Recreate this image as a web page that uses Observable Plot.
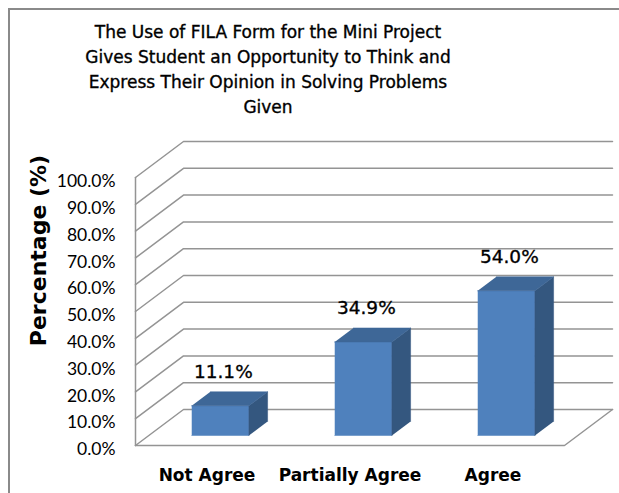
<!DOCTYPE html>
<html>
<head>
<meta charset="utf-8">
<script src="https://cdn.jsdelivr.net/npm/d3@7"></script>
<script src="https://cdn.jsdelivr.net/npm/@observablehq/plot@0.6"></script>
<style>
  html, body { margin: 0; padding: 0; background: #fff; width: 619px; height: 493px; overflow: hidden; }
  #border { position: absolute; left: 8px; top: 8px; width: 700px; height: 600px; border: 2px solid #8a8a8a; box-sizing: border-box; }
  #chart { position: absolute; left: 0; top: 0; }
  #title { position: absolute; left: 0; top: 20px; width: 536px; text-align: center;
           font-family: "DejaVu Sans", sans-serif; font-size: 17px; line-height: 25px; color: #000;
           -webkit-text-stroke: 0.35px #000; }
</style>
</head>
<body>
<div id="border"></div>
<div id="chart"></div>
<div id="title"></div>
<script>
// ---- data ----
const categories = ["Not Agree", "Partially Agree", "Agree"];
const values = [11.1, 34.9, 54.0];
const valueLabels = ["11.1%", "34.9%", "54.0%"];
const yTicks = [0, 10, 20, 30, 40, 50, 60, 70, 80, 90, 100];
const yTickLabels = ["0.0%", "10.0%", "20.0%", "30.0%", "40.0%", "50.0%", "60.0%", "70.0%", "80.0%", "90.0%", "100.0%"];
const titleLines = [
  "The Use of FILA Form for the Mini Project",
  "Gives Student an Opportunity to Think and",
  "Express Their Opinion in Solving Problems",
  "Given"
];
const yTitle = "Percentage (%)";

// ---- layout ----
const W = 619, H = 493, mL = 135, mR = 55, mT = 177, mB = 48;
const n = categories.length;
const xPx = (W - mL - mR) / n, yPx = (H - mT - mB) / 100;
// 3D depth vector (48px right, 36px up) expressed in data units
const DX = 48 / xPx, DY = 36 / yPx;
const P = (x, y, d) => ({x: x + d * DX, y: y + d * DY});
const dF = 10 / 36, dB = 24 / 36, hw = 0.2;

const grid = yTicks.flatMap(t => [P(0, t, 0), P(0, t, 1), P(n, t, 1)].map(p => ({...p, z: "g" + t})));
const frame = [
  {...P(0, 0, 0), z: "v"}, {...P(0, 100, 0), z: "v"},
  {...P(0, 0, 0), z: "f"}, {...P(n, 0, 0), z: "f"}, {...P(n, 0, 1), z: "f"}
];
const faceFront = [], faceSide = [], faceTop = [], labels = [];
values.forEach((v, i) => {
  const c = i + 0.5;
  [P(c - hw, 0, dF), P(c + hw, 0, dF), P(c + hw, v, dF), P(c - hw, v, dF)].forEach(p => faceFront.push({...p, z: i}));
  [P(c + hw, 0, dF), P(c + hw, v, dF), P(c + hw, v, dB), P(c + hw, 0, dB)].forEach(p => faceSide.push({...p, z: i}));
  [P(c - hw, v, dF), P(c + hw, v, dF), P(c + hw, v, dB), P(c - hw, v, dB)].forEach(p => faceTop.push({...p, z: i}));
  labels.push({...P(c, v, dF), text: valueLabels[i]});
});
const catData = categories.map((c, i) => ({x: i + 0.5, y: 0, text: c}));
const tickData = yTicks.map((t, i) => ({x: 0, y: t, text: yTickLabels[i]}));

const chart = Plot.plot({
  width: W, height: H,
  marginLeft: mL, marginRight: mR, marginTop: mT, marginBottom: mB,
  style: {background: "transparent", overflow: "visible"},
  x: {domain: [0, n], axis: null},
  y: {domain: [0, 100], axis: null},
  marks: [
    Plot.line(grid, {x: "x", y: "y", z: "z", stroke: "#949494", strokeWidth: 1.5}),
    Plot.line(frame, {x: "x", y: "y", z: "z", stroke: "#949494", strokeWidth: 1.5}),
    Plot.line(faceFront, {x: "x", y: "y", z: "z", fill: "#4f81bd", stroke: "#4f81bd", strokeWidth: 0.5}),
    Plot.line(faceSide, {x: "x", y: "y", z: "z", fill: "#34577f", stroke: "#34577f", strokeWidth: 0.5}),
    Plot.line(faceTop, {x: "x", y: "y", z: "z", fill: "#3e6797", stroke: "#3e6797", strokeWidth: 0.5}),
    Plot.text(labels, {x: "x", y: "y", text: "text", dx: 3, dy: -34, fontSize: 18.5, fontFamily: "DejaVu Sans", fill: "#000", stroke: "#000", strokeWidth: 0.35}),
    Plot.text(catData, {x: "x", y: "y", text: "text", dy: 30, fontSize: 17, fontWeight: "bold", fontFamily: "DejaVu Sans", fill: "#000"}),
    Plot.text(tickData, {x: "x", y: "y", text: "text", dx: -20, dy: 4, textAnchor: "end", fontSize: 17.5, fontFamily: "Lato", fill: "#000"}),
    Plot.text([yTitle], {frameAnchor: "left", text: d => d, rotate: -90, textAnchor: "middle", dx: -97, dy: -61, fontSize: 22, fontWeight: "bold", fontFamily: "DejaVu Sans", fill: "#000"})
  ]
});
document.getElementById("chart").appendChild(chart);
document.getElementById("title").innerHTML = titleLines.map(l => `<div>${l}</div>`).join("");
</script>
</body>
</html>
